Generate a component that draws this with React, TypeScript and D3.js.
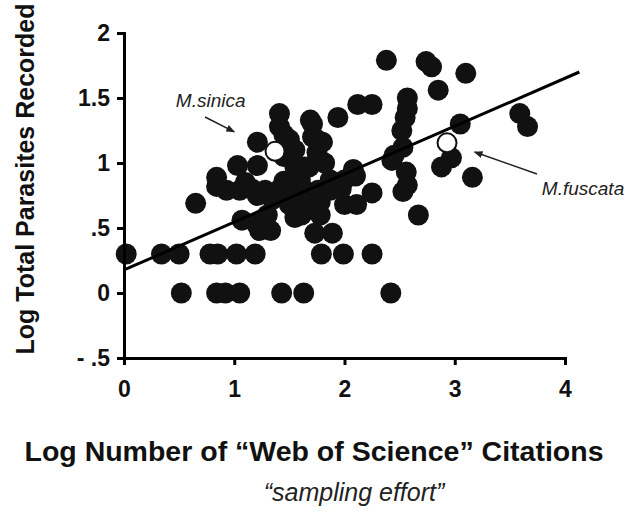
import React, { useEffect, useRef } from 'react';
import * as d3 from 'd3';

// log citations (x) and log parasite counts (y), one entry per host species
const CITATIONS = [
  0.52, 0.84, 0.92, 1.05, 1.43, 1.63, 2.42,
  0.02, 0.34, 0.5, 0.78, 0.85, 1.02, 1.19, 1.79, 1.99, 2.25,
  1.23, 1.33, 1.73, 1.89,
  1.07, 1.3, 1.55, 1.61, 1.78, 2.67, 1.2,
  0.65, 1.5, 1.64, 1.78, 2.0, 2.11, 1.35, 1.21,
  0.93, 1.05, 1.16, 1.28, 1.4, 1.51, 1.64, 1.76, 1.87, 2.25, 2.53, 1.97,
  0.84, 0.84, 1.6, 1.87, 2.0, 2.57, 3.16, 1.1, 1.45, 2.1,
  1.03, 1.21, 1.64, 1.68, 2.08, 2.43, 2.56, 2.88, 1.55, 1.82,
  2.97, 1.75, 2.45, 1.55, 1.45,
  1.21, 1.75, 1.8, 2.53, 1.71, 1.5,
  1.41, 1.71, 2.52, 3.05, 3.66, 1.45,
  1.41, 1.94, 1.69, 2.55, 3.59,
  2.12, 2.25, 2.57, 2.57,
  2.85, 2.38, 2.74, 2.79, 3.1,
];

const PARASITES = [
  0, 0, 0, 0, 0, 0, 0,
  0.3, 0.3, 0.3, 0.3, 0.3, 0.3, 0.3, 0.3, 0.3, 0.3,
  0.48, 0.48, 0.46, 0.46,
  0.56, 0.6, 0.58, 0.6, 0.6, 0.6, 0.53,
  0.69, 0.68, 0.68, 0.7, 0.68, 0.68, 0.72, 0.75,
  0.79, 0.79, 0.8, 0.79, 0.79, 0.79, 0.79, 0.79, 0.79, 0.77, 0.78, 0.8,
  0.82, 0.89, 0.87, 0.87, 0.87, 0.83, 0.89, 0.85, 0.86, 0.9,
  0.98, 0.98, 0.97, 0.97, 0.95, 1.02, 0.93, 0.97, 0.97, 1.0,
  1.04, 1.08, 1.06, 1.1, 1.05,
  1.16, 1.18, 1.16, 1.12, 1.2, 1.18,
  1.28, 1.3, 1.25, 1.3, 1.28, 1.22,
  1.38, 1.35, 1.33, 1.35, 1.38,
  1.45, 1.45, 1.42, 1.5,
  1.56, 1.79, 1.78, 1.74, 1.69,
];

// the two macaques drawn as open circles
const HIGHLIGHT_NAMES = ['M.sinica', 'M.fuscata'];
const HIGHLIGHT_X = [1.37, 2.93];
const HIGHLIGHT_Y = [1.09, 1.155];

const X_TICKS = [0, 1, 2, 3, 4];
const Y_TICKS = [-0.5, 0, 0.5, 1, 1.5, 2];
const Y_TICK_LABELS = ['- .5', '0', '.5', '1', '1.5', '2'];

// fitted regression line, end points
const FIT_X = [0, 4.13];
const FIT_Y = [0.177, 1.7];

const FONT = '"Liberation Sans", Arial, Helvetica, sans-serif';

export default function App() {
  const width = 643;
  const height = 514;
  const xAxisRef = useRef<SVGGElement>(null);
  const yAxisRef = useRef<SVGGElement>(null);

  const x = d3.scaleLinear().domain([0, 4]).range([124, 565]);
  const y = d3.scaleLinear().domain([-0.5, 2]).range([358, 33]);

  useEffect(() => {
    const xa = d3.axisBottom(x).tickValues(X_TICKS).tickFormat(d3.format('d')).tickSize(7).tickPadding(16);
    const ya = d3.axisLeft(y)
      .tickValues(Y_TICKS)
      .tickFormat((d, i) => Y_TICK_LABELS[i])
      .tickSize(7)
      .tickPadding(7);
    const gx = d3.select(xAxisRef.current).call(xa as any);
    const gy = d3.select(yAxisRef.current).call(ya as any);
    [gx, gy].forEach(g => {
      g.attr('font-family', FONT).attr('font-size', 23).attr('font-weight', 'bold');
      g.selectAll('.domain').attr('stroke', '#000').attr('stroke-width', 3);
      g.selectAll('.tick line').attr('stroke', '#000').attr('stroke-width', 3);
      g.selectAll('.tick text').attr('fill', '#111');
    });
  }, []);

  const fit = d3.line<number>().x(i => x(FIT_X[i])).y(i => y(FIT_Y[i]));

  const dots = CITATIONS.map((c, i) => (
    <circle key={i} cx={x(c)} cy={y(PARASITES[i])} r={10.5} fill="#111" />
  ));

  const open = HIGHLIGHT_X.map((c, i) => (
    <circle key={HIGHLIGHT_NAMES[i]} cx={x(c)} cy={y(HIGHLIGHT_Y[i])} r={9.5} fill="#fff" stroke="#111" strokeWidth={2} />
  ));

  // label anchors and arrows (data units)
  const notes = [
    { name: HIGHLIGHT_NAMES[0], lx: 0.47, ly: 1.43, ax0: 0.735, ay0: 1.354, ax1: 1.0, ay1: 1.24 },
    { name: HIGHLIGHT_NAMES[1], lx: 3.79, ly: 0.755, ax0: 3.746, ay0: 0.915, ax1: 3.18, ay1: 1.085 },
  ];

  return (
    <svg width={width} height={height} style={{ position: 'absolute', left: 0, top: 0, background: '#fff' }}>
      <defs>
        <marker id="head" viewBox="0 0 10 8" refX="9" refY="4" markerWidth="9" markerHeight="7" orient="auto" markerUnits="userSpaceOnUse">
          <path d="M0,0 L10,4 L0,8 z" fill="#222" />
        </marker>
      </defs>

      {dots}
      <path d={fit([0, 1]) || ''} stroke="#000" strokeWidth={3} fill="none" />
      {open}

      {notes.map(n => (
        <g key={n.name}>
          <text x={x(n.lx)} y={y(n.ly)} fontFamily={FONT} fontStyle="italic" fontSize={19} fill="#222">{n.name}</text>
          <line x1={x(n.ax0)} y1={y(n.ay0)} x2={x(n.ax1)} y2={y(n.ay1)} stroke="#222" strokeWidth={1.5} markerEnd="url(#head)" />
        </g>
      ))}

      <g ref={xAxisRef} transform={`translate(0,${y(-0.5)})`} />
      <g ref={yAxisRef} transform={`translate(${x(0)},0)`} />

      <text transform="translate(34,179) rotate(-90)" textAnchor="middle" fontFamily={FONT} fontWeight="bold" fontSize={25} fill="#111">
        Log Total Parasites Recorded
      </text>
      <text x={314} y={461} textAnchor="middle" fontFamily={FONT} fontWeight="bold" fontSize={28.5} fill="#111">
        Log Number of “Web of Science” Citations
      </text>
      <text x={354} y={501} textAnchor="middle" fontFamily={FONT} fontStyle="italic" fontSize={25} fill="#222">
        “sampling effort”
      </text>
    </svg>
  );
}
